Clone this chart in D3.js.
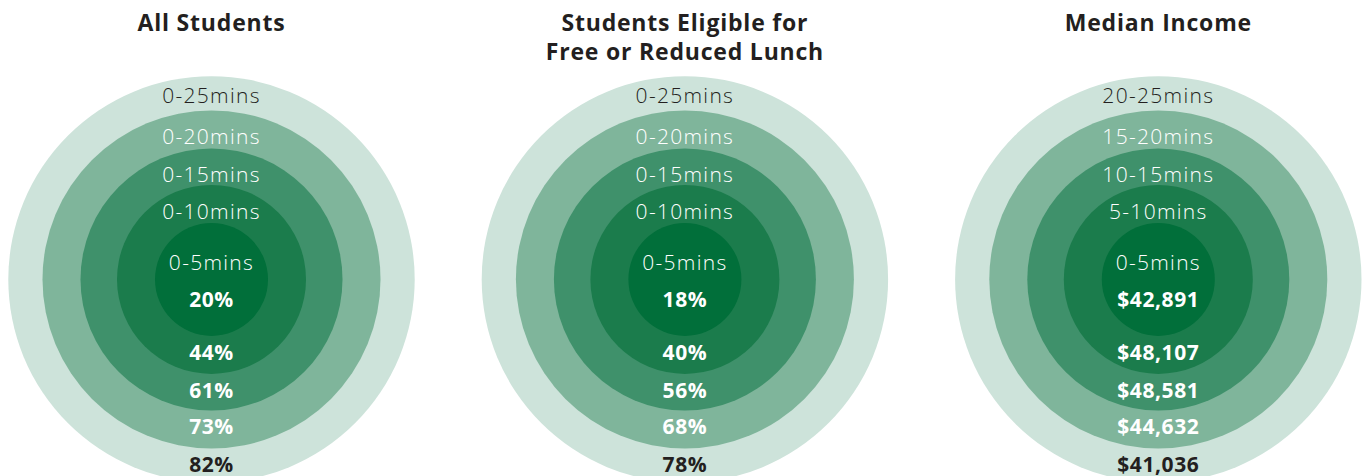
<!DOCTYPE html>
<html><head><meta charset="utf-8">
<script src="https://cdn.jsdelivr.net/npm/d3@7"></script>
<style>html,body{margin:0;padding:0;background:#fff;overflow:hidden}</style>
</head><body>
<svg id="chart" width="1364" height="476"></svg>
<script>
const panels = ["All Students", "Students Eligible for\nFree or Reduced Lunch", "Median Income"];
const minutes = [5, 10, 15, 20, 25];
const ringLabels = [
  ["0-5mins", "0-10mins", "0-15mins", "0-20mins", "0-25mins"],
  ["0-5mins", "0-10mins", "0-15mins", "0-20mins", "0-25mins"],
  ["0-5mins", "5-10mins", "10-15mins", "15-20mins", "20-25mins"]
];
const allStudents = [20, 44, 61, 73, 82];
const freeLunch = [18, 40, 56, 68, 78];
const medianIncome = [42891, 48107, 48581, 44632, 41036];
const ringColors = ["#016f3a", "#1b7c4c", "#3f916b", "#7fb59b", "#cde3da"];

const values = [allStudents, freeLunch, medianIncome];
const fmts = [d => d + "%", d => d + "%", d => "$" + d3.format(",")(d)];

const svg = d3.select("#chart");
const x = d3.scalePoint().domain(d3.range(panels.length)).range([211.5, 1158.3]);
const r = d3.scaleLinear().domain([5, 10, 15, 20, 25]).range([56.5, 94.5, 131, 169, 203.2]);
const cy = 279.4;
const font = "'Open Sans', 'Noto Sans', sans-serif";
const last = minutes.length - 1;

panels.forEach((title, p) => {
  const g = svg.append("g").attr("transform", `translate(${x(p)},0)`);
  const lines = title.split("\n");
  g.append("text")
    .attr("text-anchor", "middle")
    .attr("font-family", font)
    .attr("font-weight", 700)
    .attr("font-size", 23)
    .attr("letter-spacing", 0.8)
    .attr("fill", "#231f20")
    .selectAll("tspan").data(lines).join("tspan")
    .attr("x", 0).attr("y", (d, i) => 31 + i * 29).text(d => d);

  const c = g.append("g").attr("transform", `translate(0,${cy})`);
  const idx = d3.range(minutes.length).reverse();
  c.selectAll("circle").data(idx).join("circle")
    .attr("r", i => r(minutes[i]))
    .attr("fill", i => ringColors[i]);

  // ring labels (upper part of each ring)
  c.selectAll("text.lab").data(d3.range(minutes.length)).join("text")
    .attr("class", "lab")
    .attr("text-anchor", "middle")
    .attr("font-family", font)
    .attr("font-weight", 300)
    .attr("font-size", 21)
    .attr("letter-spacing", 1.3)
    .attr("fill", i => i === last ? "#231f20" : "#ffffff")
    .attr("y", i => i === 0 ? -9.2 : -r(minutes[i]) + (i === last ? 27 : 33.8))
    .text(i => ringLabels[p][i]);

  // values (lower part of each ring)
  c.selectAll("text.val").data(d3.range(minutes.length)).join("text")
    .attr("class", "val")
    .attr("text-anchor", "middle")
    .attr("font-family", font)
    .attr("font-weight", 700)
    .attr("font-size", 21)
    .attr("letter-spacing", 0.6)
    .attr("fill", i => i === last ? "#231f20" : "#ffffff")
    .attr("y", i => i === 0 ? 28 : r(minutes[i - 1]) + 23.8)
    .text(i => fmts[p](values[p][i]));
});
</script>
</body></html>
